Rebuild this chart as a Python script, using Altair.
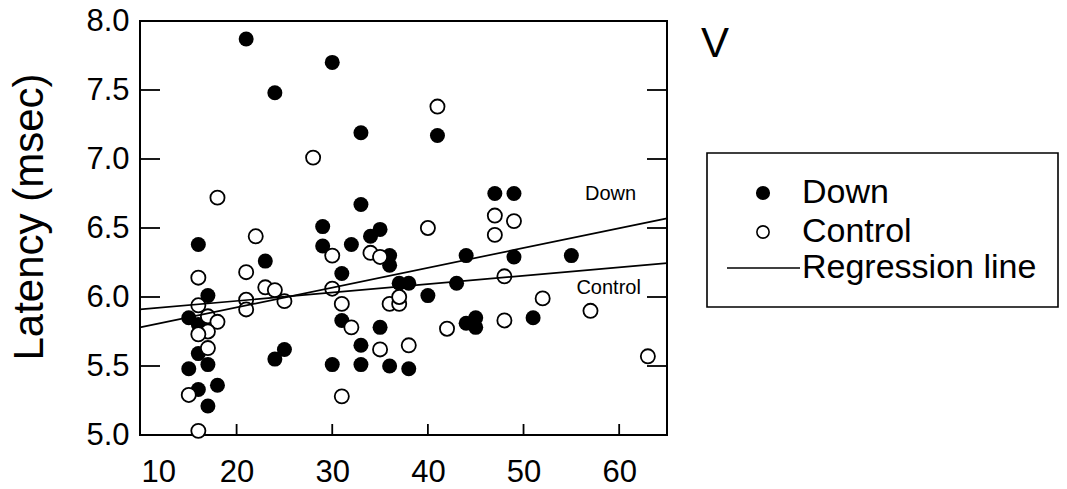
import altair as alt
import pandas as pd

# ---- data ----
down_age = [21, 30, 24, 33, 41, 47, 49, 33, 29, 35, 34, 16, 29, 32, 36, 36, 44, 49, 55, 23,
            31, 37, 38, 43, 17, 40, 15, 16, 31, 35, 44, 45, 45, 51, 33, 25, 24, 16, 17, 15,
            30, 33, 36, 38, 18, 16, 17]
down_lat = [7.87, 7.70, 7.48, 7.19, 7.17, 6.75, 6.75, 6.67, 6.51, 6.49, 6.44, 6.38, 6.37, 6.38,
            6.30, 6.23, 6.30, 6.29, 6.30, 6.26, 6.17, 6.10, 6.10, 6.10, 6.01, 6.01, 5.85, 5.80,
            5.83, 5.78, 5.81, 5.85, 5.78, 5.85, 5.65, 5.62, 5.55, 5.59, 5.51, 5.48, 5.51, 5.51,
            5.50, 5.48, 5.36, 5.33, 5.21]

ctrl_age = [28, 41, 18, 22, 47, 49, 40, 47, 16, 21, 30, 34, 35, 23, 24, 25, 21, 21, 30, 31,
            16, 17, 18, 17, 16, 17, 32, 36, 37, 37, 35, 38, 15, 31, 16, 48, 52, 57, 42, 48, 63]
ctrl_lat = [7.01, 7.38, 6.72, 6.44, 6.59, 6.55, 6.50, 6.45, 6.14, 6.18, 6.30, 6.32, 6.29, 6.07,
            6.05, 5.97, 5.98, 5.91, 6.06, 5.95, 5.94, 5.86, 5.82, 5.75, 5.73, 5.63, 5.78, 5.95,
            5.95, 6.00, 5.62, 5.65, 5.29, 5.28, 5.03, 6.15, 5.99, 5.90, 5.77, 5.83, 5.57]

reg_age = [9.9, 65.0]
reg_down = [5.78, 6.57]
reg_ctrl = [5.91, 6.245]

lab_text = ["Down", "Control"]
lab_age = [59.1, 58.9]
lab_lat = [6.746, 6.065]

x_ticks = [20, 30, 40, 50, 60]
y_ticks = [5.5, 6.0, 6.5, 7.0, 7.5]
x_labels = [10, 20, 30, 40, 50, 60]
y_labels = [5.0, 5.5, 6.0, 6.5, 7.0, 7.5, 8.0]

FONT = "Liberation Sans"
W, H = 527, 414

down_df = pd.DataFrame({"age": down_age, "lat": down_lat})
ctrl_df = pd.DataFrame({"age": ctrl_age, "lat": ctrl_lat})
reg_df = pd.DataFrame({
    "age": reg_age * 2,
    "lat": reg_down + reg_ctrl,
    "grp": ["Down"] * 2 + ["Control"] * 2,
})
lab_df = pd.DataFrame({"t": lab_text, "age": lab_age, "lat": lab_lat})
xt_df = pd.DataFrame({"age": x_ticks})
yt_df = pd.DataFrame({"lat": y_ticks})
one = pd.DataFrame({"a": [0]})

xs = alt.Scale(domain=[9.9, 65.0], nice=False, zero=False)
ys = alt.Scale(domain=[5.0, 8.0], nice=False, zero=False)

x_axis = alt.Axis(values=x_labels, ticks=False, domain=False, grid=False, title=None,
                  labelFontSize=31, labelFont=FONT, labelColor="black", labelPadding=22,
                  labelOverlap=False)
y_axis = alt.Axis(values=y_labels, format=".1f", ticks=False, domain=False, grid=False,
                  title=None, labelFontSize=31, labelFont=FONT, labelColor="black",
                  labelPadding=11, labelOverlap=False)

X = alt.X("age:Q", scale=xs, axis=x_axis)
Y = alt.Y("lat:Q", scale=ys, axis=y_axis)

down_pts = alt.Chart(down_df).mark_circle(size=225, color="black", opacity=1, clip=False).encode(
    x=X, y=Y)
ctrl_pts = alt.Chart(ctrl_df).mark_point(shape="circle", size=200, filled=False, fill="white",
                                         fillOpacity=1, stroke="black", strokeWidth=1.8,
                                         opacity=1, clip=False).encode(x=X, y=Y)
reg = alt.Chart(reg_df).mark_line(color="black", strokeWidth=1.7).encode(
    x=X, y=Y, detail="grp:N")
labs = alt.Chart(lab_df).mark_text(font=FONT, fontSize=20, color="black",
                                   align="center", baseline="middle").encode(
    x=X, y=Y, text="t:N")

tick_l = alt.Chart(yt_df).mark_rule(color="black", strokeWidth=1.8).encode(
    y=Y, x=alt.value(0), x2=alt.value(20))
tick_r = alt.Chart(yt_df).mark_rule(color="black", strokeWidth=1.8).encode(
    y=Y, x=alt.value(W - 20), x2=alt.value(W))
tick_b = alt.Chart(xt_df).mark_rule(color="black", strokeWidth=1.8).encode(
    x=X, y=alt.value(H), y2=alt.value(H - 11))

ytitle = alt.Chart(one).mark_text(text="Latency (msec)", font=FONT, fontSize=42, angle=270,
                                  color="black", align="center", baseline="middle").encode(
    x=alt.value(-110), y=alt.value(196))
panel = alt.Chart(one).mark_text(text="V", font=FONT, fontSize=42, color="black",
                                 align="center", baseline="middle").encode(
    x=alt.value(575), y=alt.value(23))

# legend (drawn by hand)
leg_box = alt.Chart(one).mark_rect(fill="white", stroke="black", strokeWidth=1.6).encode(
    x=alt.value(567), x2=alt.value(918), y=alt.value(132), y2=alt.value(286))
leg_down = alt.Chart(one).mark_circle(size=200, color="black", opacity=1).encode(
    x=alt.value(623), y=alt.value(172))
leg_ctrl = alt.Chart(one).mark_point(shape="circle", size=150, filled=False, fill="white",
                                     stroke="black", strokeWidth=1.6, opacity=1).encode(
    x=alt.value(623), y=alt.value(211))
leg_line = alt.Chart(one).mark_rule(color="black", strokeWidth=1.6).encode(
    x=alt.value(587), x2=alt.value(660), y=alt.value(247))
leg_t1 = alt.Chart(one).mark_text(text="Down", font=FONT, fontSize=34, color="black",
                                  align="left", baseline="middle").encode(
    x=alt.value(662), y=alt.value(172))
leg_t2 = alt.Chart(one).mark_text(text="Control", font=FONT, fontSize=34, color="black",
                                  align="left", baseline="middle").encode(
    x=alt.value(662), y=alt.value(211))
leg_t3 = alt.Chart(one).mark_text(text="Regression line", font=FONT, fontSize=34, color="black",
                                  align="left", baseline="middle").encode(
    x=alt.value(662), y=alt.value(247))

chart = alt.layer(
    down_pts, ctrl_pts, reg, labs, tick_l, tick_r, tick_b, ytitle, panel,
    leg_box, leg_down, leg_ctrl, leg_line, leg_t1, leg_t2, leg_t3,
).properties(
    width=W, height=H,
    autosize=alt.AutoSizeParams(type="none"),
    padding={"left": 140, "top": 21, "right": 400, "bottom": 54},
    background="white",
).configure_view(stroke="black", strokeWidth=2)

chart.save("out.html", embed_options={"renderer": "svg", "actions": False})
